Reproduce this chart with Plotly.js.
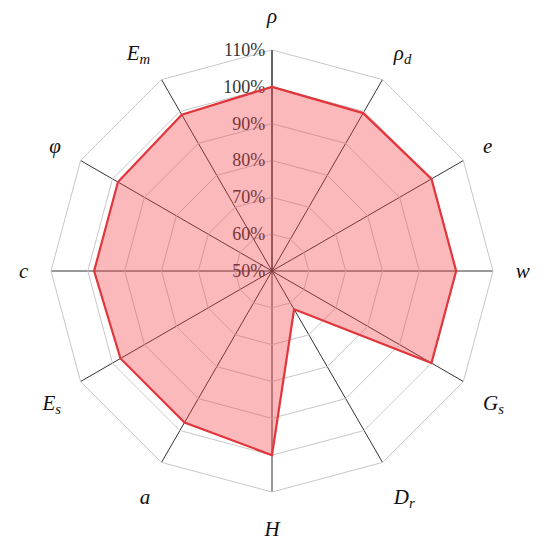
<!DOCTYPE html>
<html>
<head>
<meta charset="utf-8">
<script src="https://cdn.plot.ly/plotly-3.0.1.min.js"></script>
<style>
  html, body { margin: 0; padding: 0; background: white; }
  #chart { width: 550px; height: 552px; }
</style>
</head>
<body>
<div id="chart"></div>
<script>
// 축 이름 (시계 방향, 위에서 시작)
const labels = ["ρ", "ρ<sub>d</sub>", "e", "w", "G<sub>s</sub>", "D<sub>r</sub>",
                "H", "a", "E<sub>s</sub>", "c", "φ", "E<sub>m</sub>"];
// 값 (%)
const values = [100, 99.5, 100, 100, 100, 62, 100, 97.5, 97.5, 98.3, 98.3, 99];
const radialTicks = [50, 60, 70, 80, 90, 100, 110];

const theta = labels.map(l => "<i>" + l + "</i>");
const serif = "'Times New Roman', 'Liberation Serif', 'DejaVu Serif', serif";

const trace = {
    type: "scatterpolar",
    r: [...values, values[0]],
    theta: [...theta, theta[0]],
    mode: "lines",
    fill: "toself",
    fillcolor: "rgba(245,60,70,0.36)",
    line: {color: "#e0363c", width: 2.2},
    hoverinfo: "skip"
};

const layout = {
    width: 550,
    height: 552,
    margin: {l: 51, r: 57, t: 50, b: 60},
    showlegend: false,
    paper_bgcolor: "white",
    font: {family: serif, color: "#222"},
    polar: {
        bgcolor: "white",
        gridshape: "linear",
        domain: {x: [0, 1], y: [0, 1]},
        radialaxis: {
            range: [50, 110],
            tickvals: radialTicks,
            ticktext: radialTicks.map(v => v + "%"),
            angle: 90,
            tickangle: 90,
            side: "counterclockwise",
            showline: true,
            linecolor: "#333",
            linewidth: 1,
            gridcolor: "#c8c8c8",
            gridwidth: 1,
            ticks: "",
            tickfont: {size: 18, color: "#333", family: serif},
            layer: "below traces"
        },
        angularaxis: {
            type: "category",
            categoryarray: theta,
            rotation: 90,
            direction: "clockwise",
            showline: true,
            linecolor: "#c8c8c8",
            linewidth: 1,
            gridcolor: "#333",
            gridwidth: 1,
            ticks: "outside",
            ticklen: 18,
            tickcolor: "rgba(0,0,0,0)",
            tickfont: {size: 21, color: "#111", family: serif},
            layer: "below traces"
        }
    }
};

Plotly.newPlot("chart", [trace], layout, {displayModeBar: false, staticPlot: true});
</script>
</body>
</html>
